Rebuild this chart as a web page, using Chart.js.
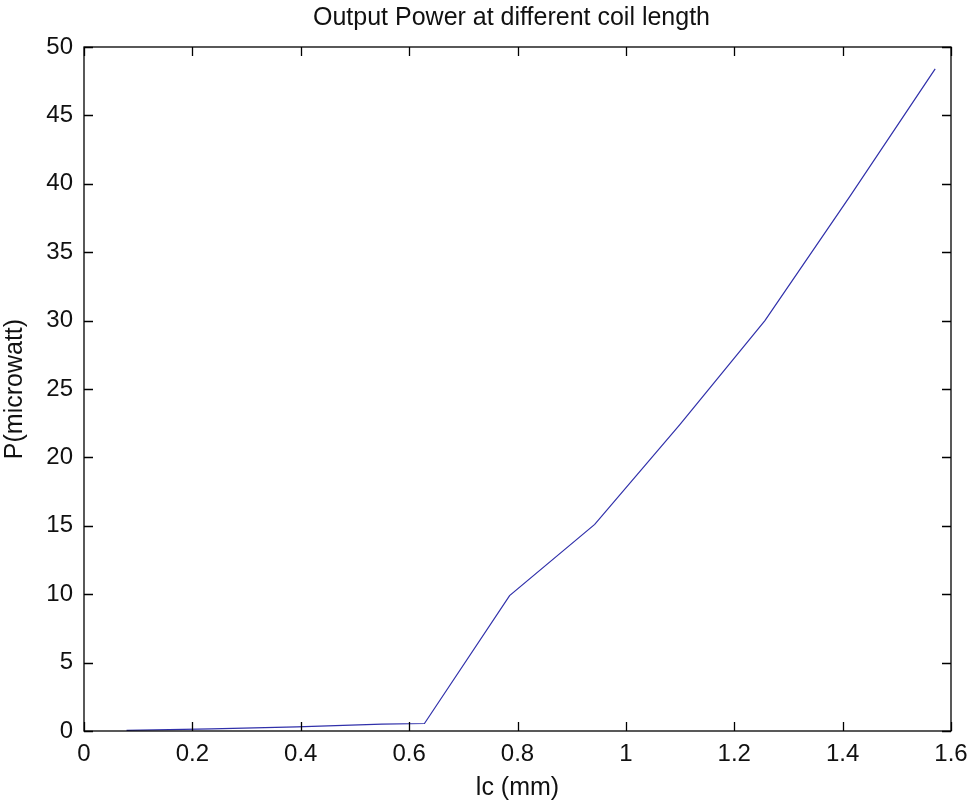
<!DOCTYPE html>
<html>
<head>
<meta charset="utf-8">
<script src="https://cdn.jsdelivr.net/npm/chart.js@4/dist/chart.umd.min.js"></script>
<style>
  html, body { margin: 0; padding: 0; background: #ffffff; }
  #wrap { width: 970px; height: 803px; position: relative; }
</style>
</head>
<body>
<div id="wrap"><canvas id="c" width="970" height="803"></canvas></div>
<script>
// Data
const coilLength = [0.0785, 0.2356, 0.3927, 0.5498, 0.6283, 0.7854, 0.9425, 1.0996, 1.2566, 1.4137, 1.5708];
const powerMicrowatt = [0.05, 0.15, 0.3, 0.5, 0.55, 9.9, 15.1, 22.4, 30.0, 39.1, 48.4];
const xTicks = [0, 0.2, 0.4, 0.6, 0.8, 1, 1.2, 1.4, 1.6];
const yTicks = [0, 5, 10, 15, 20, 25, 30, 35, 40, 45, 50];
const titleText = 'Output Power at different coil length';

const FONT = "'Liberation Sans', Arial, sans-serif";
const points = coilLength.map((x, i) => ({ x: x, y: powerMicrowatt[i] }));

// Title centred over the axes box (as MATLAB does)
const axesTitle = {
  id: 'axesTitle',
  afterDraw(chart) {
    const ctx = chart.ctx;
    const a = chart.chartArea;
    ctx.save();
    ctx.fillStyle = '#111';
    ctx.font = '25px ' + FONT;
    ctx.textAlign = 'center';
    ctx.textBaseline = 'middle';
    ctx.fillText(titleText, (a.left + a.right) / 2 - 6, 18);
    ctx.restore();
  }
};

const boxTicks = {
  id: 'boxTicks',
  afterDraw(chart) {
    const ctx = chart.ctx;
    const a = chart.chartArea;
    const xs = chart.scales.x, ys = chart.scales.y;
    const L = 9;
    ctx.save();
    ctx.strokeStyle = '#000';
    ctx.lineWidth = 1.3;
    ctx.strokeRect(a.left, a.top, a.right - a.left, a.bottom - a.top);
    ctx.beginPath();
    xTicks.forEach(v => {
      const px = Math.round(xs.getPixelForValue(v)) + 0.5;
      ctx.moveTo(px, a.bottom); ctx.lineTo(px, a.bottom - L);
      ctx.moveTo(px, a.top); ctx.lineTo(px, a.top + L);
    });
    yTicks.forEach(v => {
      const py = Math.round(ys.getPixelForValue(v)) + 0.5;
      ctx.moveTo(a.left, py); ctx.lineTo(a.left + L, py);
      ctx.moveTo(a.right, py); ctx.lineTo(a.right - L, py);
    });
    ctx.stroke();
    ctx.restore();
  }
};

new Chart(document.getElementById('c'), {
  type: 'line',
  data: {
    datasets: [{
      data: points,
      borderColor: '#3030aa',
      borderWidth: 1.2,
      pointRadius: 0,
      fill: false,
      tension: 0
    }]
  },
  options: {
    responsive: false,
    animation: false,
    layout: { padding: { left: 0, right: 19, top: 47, bottom: 0 } },
    plugins: {
      legend: { display: false },
      tooltip: { enabled: false },
      title: { display: false }
    },
    scales: {
      x: {
        type: 'linear',
        min: 0, max: 1.6,
        afterBuildTicks(scale) { scale.ticks = xTicks.map(v => ({ value: v })); },
        afterFit(scale) {
          scale.height = 72;
          scale.paddingLeft = 0;
          scale.paddingRight = 0;
        },
        grid: { display: true, drawOnChartArea: false, drawTicks: false },
        border: { display: false },
        ticks: {
          color: '#111',
          padding: 9,
          maxRotation: 0,
          font: { family: FONT, size: 24 },
          callback: v => String(v)
        },
        title: {
          display: true,
          text: 'lc (mm)',
          color: '#111',
          font: { family: FONT, size: 25 },
          padding: { top: 0, bottom: 0 }
        }
      },
      y: {
        type: 'linear',
        min: 0, max: 50,
        afterBuildTicks(scale) { scale.ticks = yTicks.map(v => ({ value: v })); },
        afterFit(scale) {
          scale.width = 84;
          scale.paddingTop = 0;
          scale.paddingBottom = 0;
        },
        grid: { display: true, drawOnChartArea: false, drawTicks: false },
        border: { display: false },
        ticks: {
          color: '#111',
          padding: 11,
          font: { family: FONT, size: 24 },
          callback: v => String(v)
        },
        title: {
          display: true,
          text: 'P(microwatt)',
          color: '#111',
          font: { family: FONT, size: 25 },
          padding: { top: 0, bottom: 2 }
        }
      }
    }
  },
  plugins: [boxTicks, axesTitle]
});
</script>
</body>
</html>
